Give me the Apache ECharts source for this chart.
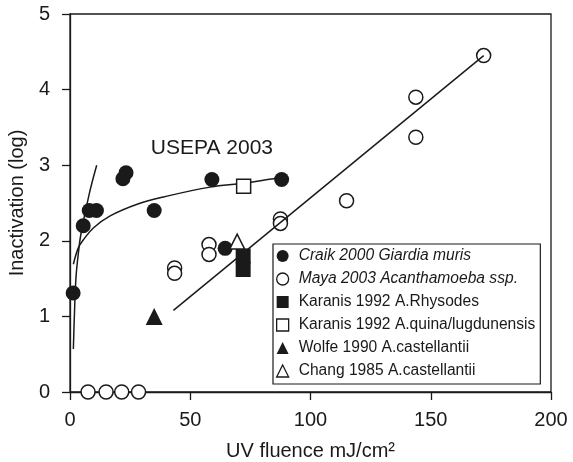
<!DOCTYPE html>
<html>
<head>
<meta charset="utf-8">
<script src="https://cdn.jsdelivr.net/npm/echarts@6/dist/echarts.min.js"></script>
<style>
  html, body { margin: 0; padding: 0; background: #fff; }
  #chart { width: 573px; height: 462px; }
</style>
</head>
<body>
<div id="chart"></div>
<script>
// data: [UV fluence, log inactivation]
const craik = [[1.3, 1.31], [5.5, 2.2], [8, 2.4], [11, 2.4], [22, 2.82], [23.3, 2.9],
  [35, 2.4], [59, 2.81], [64.5, 1.9], [88, 2.81]];
const maya = [[7.5, 0], [15, 0], [21.5, 0], [28.5, 0], [43.5, 1.64], [43.5, 1.57],
  [57.8, 1.95], [57.8, 1.82], [87.5, 2.29], [87.5, 2.23], [115, 2.53],
  [143.8, 3.9], [143.8, 3.37], [172, 4.45]];
const karanisRhy = [[72, 1.8], [72, 1.62]];
const karanisQuina = [[72.2, 2.72]];
const wolfe = [[35, 1.0]];
const chang = [[69.5, 1.99]];

// fitted curves
const steepCurve = [[1.4, 0.57], [1.8, 0.99], [2.5, 1.52], [3.6, 1.87], [4.6, 2.1], [8.0, 2.62], [11.1, 3.0]];
const usepaCurve = [[1.4, 1.69], [3.5, 1.91], [5.5, 2.01], [9.7, 2.17], [16.7, 2.33], [28.5, 2.49],
  [38.9, 2.58], [58.3, 2.71], [72, 2.76], [84.6, 2.82], [89.5, 2.84]];
const mayaLine = [[43, 1.08], [172, 4.45]];

const xTicks = [0, 50, 100, 150, 200];
const yTicks = [0, 1, 2, 3, 4, 5];

const font = 'Liberation Sans, Arial, sans-serif';
const ink = '#1a1a1a';

const chart = echarts.init(document.getElementById('chart'));

const option = {
  backgroundColor: '#ffffff',
  animation: false,
  textStyle: { fontFamily: font, color: ink },
  grid: {
    left: 70, right: 22, top: 14, bottom: 70,
    outerBoundsMode: 'none',
    show: true, borderColor: ink, borderWidth: 1.3, backgroundColor: 'transparent'
  },
  xAxis: {
    type: 'value',
    min: xTicks[0], max: xTicks[xTicks.length - 1], interval: 50,
    name: 'UV fluence mJ/cm²',
    nameLocation: 'middle',
    nameGap: 49,
    nameTextStyle: { fontSize: 20, color: ink, fontFamily: font },
    axisLine: { show: true, onZero: false, lineStyle: { color: ink, width: 1.3 } },
    axisTick: { show: true, inside: false, length: 8, lineStyle: { color: ink, width: 1.3 } },
    axisLabel: { fontSize: 20, color: ink, margin: 18, fontFamily: font },
    splitLine: { show: false }
  },
  yAxis: {
    type: 'value',
    min: yTicks[0], max: yTicks[yTicks.length - 1], interval: 1,
    name: 'Inactivation (log)',
    nameLocation: 'middle',
    nameGap: 39,
    nameTextStyle: { fontSize: 20, color: ink, fontFamily: font },
    axisLine: { show: true, onZero: false, lineStyle: { color: ink, width: 1.3 } },
    axisTick: { show: true, inside: false, length: 8, lineStyle: { color: ink, width: 1.3 } },
    axisLabel: { fontSize: 20, color: ink, margin: 20, fontFamily: font },
    splitLine: { show: false }
  },
  legend: {
    orient: 'vertical',
    left: 273, top: 244,
    padding: [4, 5, 5, 3],
    itemWidth: 12, itemHeight: 12, itemGap: 7,
    borderColor: ink, borderWidth: 1.2,
    backgroundColor: '#fff',
    itemStyle: { borderWidth: 1.3 },
    data: ['Craik 2000 Giardia muris', 'Maya 2003 Acanthamoeba ssp.', 'Karanis 1992 A.Rhysodes',
      'Karanis 1992 A.quina/lugdunensis', 'Wolfe 1990 A.castellantii', 'Chang 1985 A.castellantii'],
    formatter: function (name) {
      if (name.indexOf('Craik') === 0 || name.indexOf('Maya') === 0) return '{i|' + name + '}';
      return '{n|' + name + '}';
    },
    textStyle: {
      fontSize: 15.6, color: ink, fontFamily: font, lineHeight: 16, padding: [0, 0, 0, 5],
      rich: {
        i: { fontSize: 15.6, fontStyle: 'italic', fontFamily: font, color: ink, lineHeight: 16 },
        n: { fontSize: 15.6, fontFamily: font, color: ink, lineHeight: 16 }
      }
    }
  },
  series: [
    {
      name: 'Craik 2000 Giardia muris', type: 'scatter', data: craik,
      symbol: 'circle', symbolSize: 15, z: 5,
      itemStyle: { color: ink, opacity: 1 }
    },
    {
      name: 'Maya 2003 Acanthamoeba ssp.', type: 'scatter', data: maya,
      symbol: 'circle', symbolSize: 14, z: 3,
      itemStyle: { color: '#fff', borderColor: ink, borderWidth: 1.5, opacity: 1 }
    },
    {
      name: 'Karanis 1992 A.Rhysodes', type: 'scatter', data: karanisRhy,
      symbol: 'rect', symbolSize: 15, z: 6,
      itemStyle: { color: ink, opacity: 1 }
    },
    {
      name: 'Karanis 1992 A.quina/lugdunensis', type: 'scatter', data: karanisQuina,
      symbol: 'rect', symbolSize: 14, z: 6,
      itemStyle: { color: '#fff', borderColor: ink, borderWidth: 1.5, opacity: 1 }
    },
    {
      name: 'Wolfe 1990 A.castellantii', type: 'scatter', data: wolfe,
      symbol: 'triangle', symbolSize: 17, z: 6,
      itemStyle: { color: ink, opacity: 1 }
    },
    {
      name: 'Chang 1985 A.castellantii', type: 'scatter', data: chang,
      symbol: 'triangle', symbolSize: 15, z: 6,
      itemStyle: { color: '#fff', borderColor: ink, borderWidth: 1.5, opacity: 1 }
    },
    {
      name: 'steep fit', type: 'line', data: steepCurve, smooth: 0.4,
      showSymbol: false, z: 4, silent: true,
      lineStyle: { color: ink, width: 1.5 }
    },
    {
      name: 'USEPA 2003', type: 'line', data: usepaCurve, smooth: 0.4,
      showSymbol: false, z: 4, silent: true,
      lineStyle: { color: ink, width: 1.5 },
      markPoint: {
        symbol: 'circle', symbolSize: 0,
        data: [{ coord: [59, 3.22] }],
        label: { show: true, position: 'inside', formatter: 'USEPA 2003', fontSize: 21, color: ink, fontFamily: font }
      }
    },
    {
      name: 'Maya fit', type: 'line', data: mayaLine,
      showSymbol: false, z: 4, silent: true,
      lineStyle: { color: ink, width: 1.5 }
    }
  ]
};

chart.setOption(option);
</script>
</body>
</html>
